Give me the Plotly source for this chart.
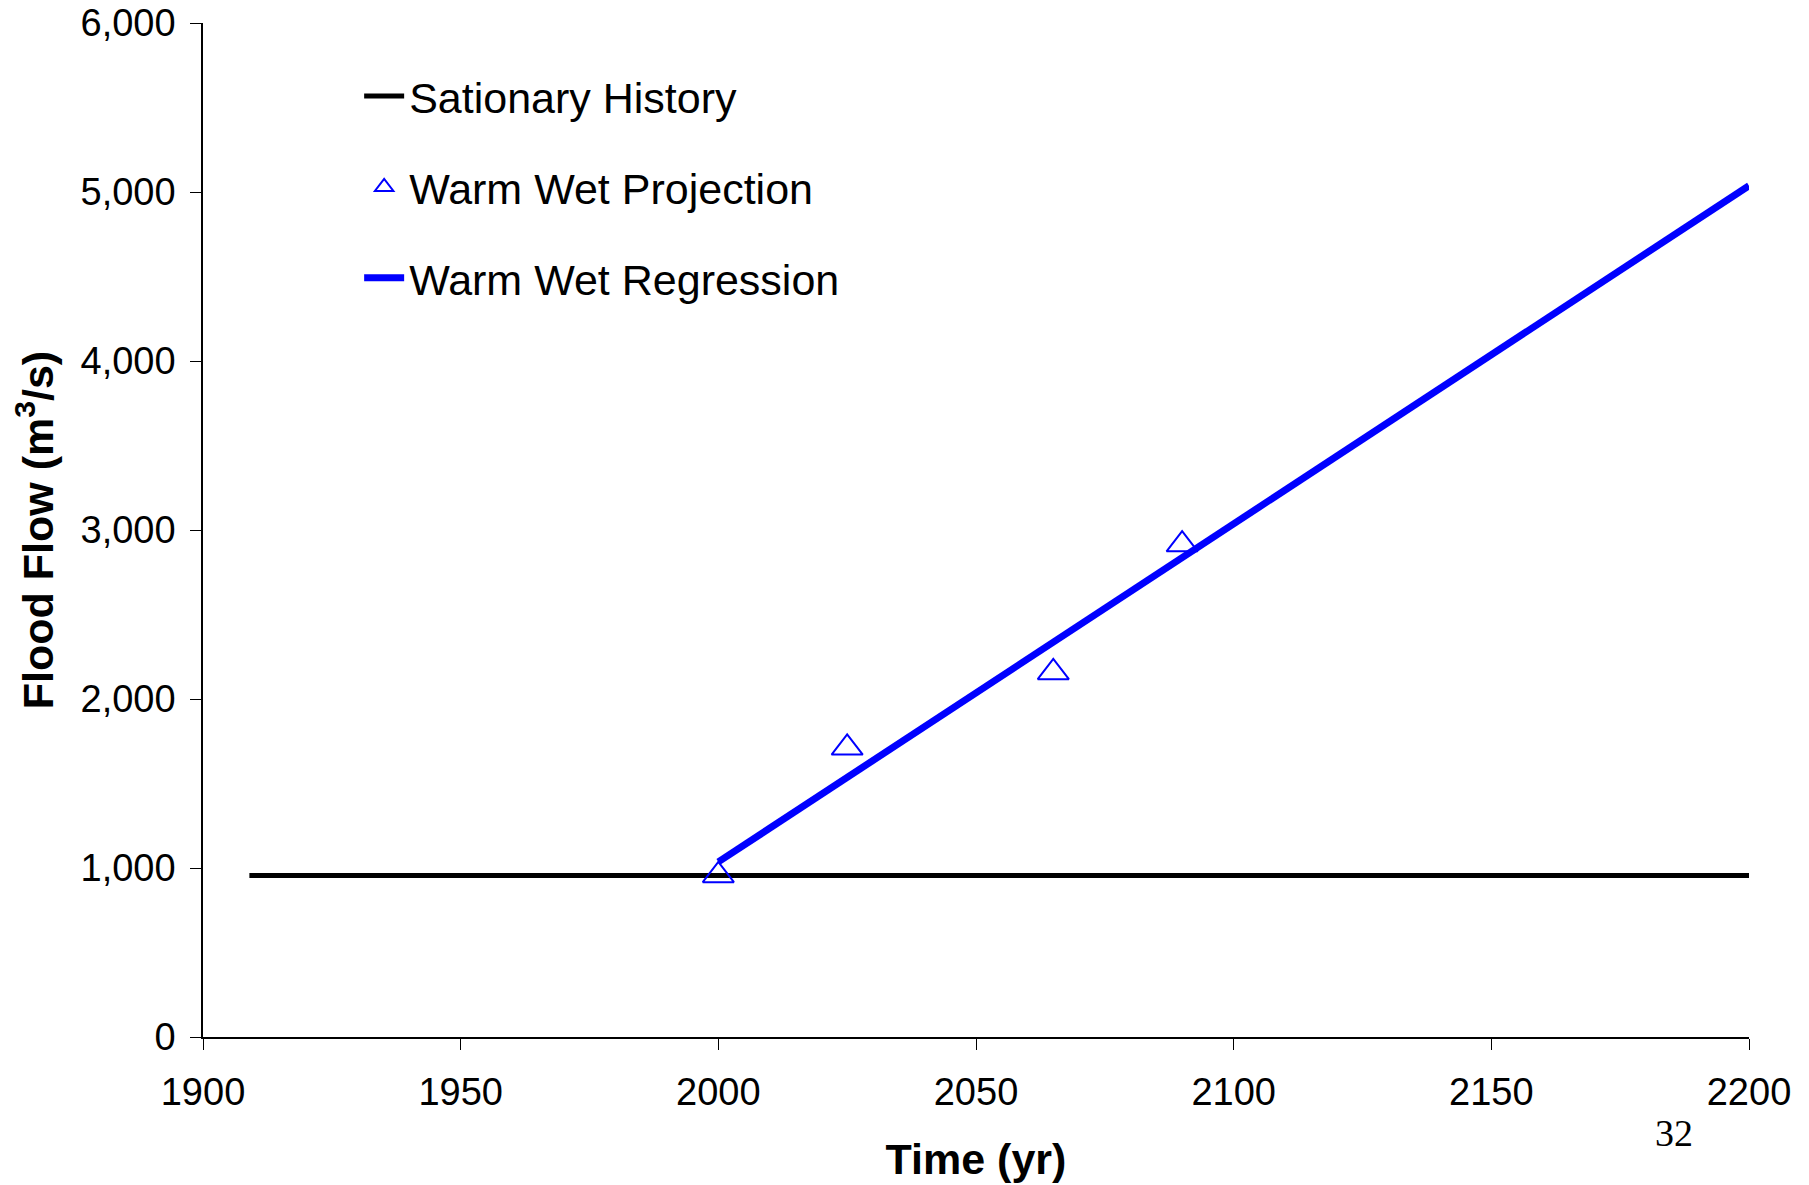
import plotly.graph_objects as go

# Data
hist_years = [1909, 2200]
hist_flow = [956, 956]

proj_years = [2000, 2025, 2065, 2090]
proj_flow = [956, 1711, 2157, 2914]

reg_years = [2000, 2200]
reg_flow = [1036, 5037]

x_ticks = [1900, 1950, 2000, 2050, 2100, 2150, 2200]
y_ticks = [0, 1000, 2000, 3000, 4000, 5000, 6000]

FONT = "Liberation Sans"

fig = go.Figure()
fig.add_trace(go.Scatter(
    x=hist_years, y=hist_flow, mode="lines", name="Sationary History",
    line=dict(color="#000000", width=5), legendgroup="g1", legendrank=1))
fig.add_trace(go.Scatter(
    x=reg_years, y=reg_flow, mode="lines", name="Warm Wet Regression",
    line=dict(color="#0000FF", width=7), legendgroup="g3", legendrank=3))
fig.add_trace(go.Scatter(
    x=proj_years, y=proj_flow, mode="markers", name="Warm Wet Projection",
    marker=dict(symbol="triangle-up-open", size=27, color="#0000FF",
                line=dict(color="#0000FF", width=2)), legendgroup="g2", legendrank=2))

fig.update_layout(
    width=1809, height=1185,
    paper_bgcolor="white", plot_bgcolor="white",
    margin=dict(l=195, r=68, t=15, b=156, autoexpand=False),
    font=dict(family=FONT, color="black"),
    showlegend=True,
    legend=dict(x=0.101, y=0.962, xanchor="left", yanchor="top",
                font=dict(family=FONT, size=43, color="black"),
                bgcolor="rgba(0,0,0,0)", tracegroupgap=32,
                traceorder="grouped", itemwidth=40),
    xaxis=dict(range=[1900, 2200], tickvals=x_ticks, showgrid=False, zeroline=False,
               showline=True, linecolor="black", linewidth=1.5,
               ticks="outside", ticklen=11, tickwidth=1, tickcolor="black",
               tickfont=dict(family=FONT, size=38, color="black"),
               ticklabelstandoff=10, ticklabeloverflow="allow",
               title=dict(text="<b>Time (yr)</b>", font=dict(family=FONT, size=43, color="black"),
                          standoff=32)),
    yaxis=dict(range=[0, 6000], tickvals=y_ticks, tickformat=",", showgrid=False, zeroline=False,
               showline=True, linecolor="black", linewidth=1.5,
               ticks="outside", ticklen=11, tickwidth=1, tickcolor="black",
               tickfont=dict(family=FONT, size=38, color="black"),
               ticklabelstandoff=7, ticklabeloverflow="allow",
               title=dict(text="<b>Flood Flow (m<sup>3</sup>/s)</b>",
                          font=dict(family=FONT, size=43, color="black"), standoff=14)),
)

fig.add_annotation(text="32", x=0.965, y=-0.117, xref="paper", yref="paper",
                   showarrow=False, font=dict(family="Liberation Serif", size=38, color="black"))

fig.write_html("out.html")
